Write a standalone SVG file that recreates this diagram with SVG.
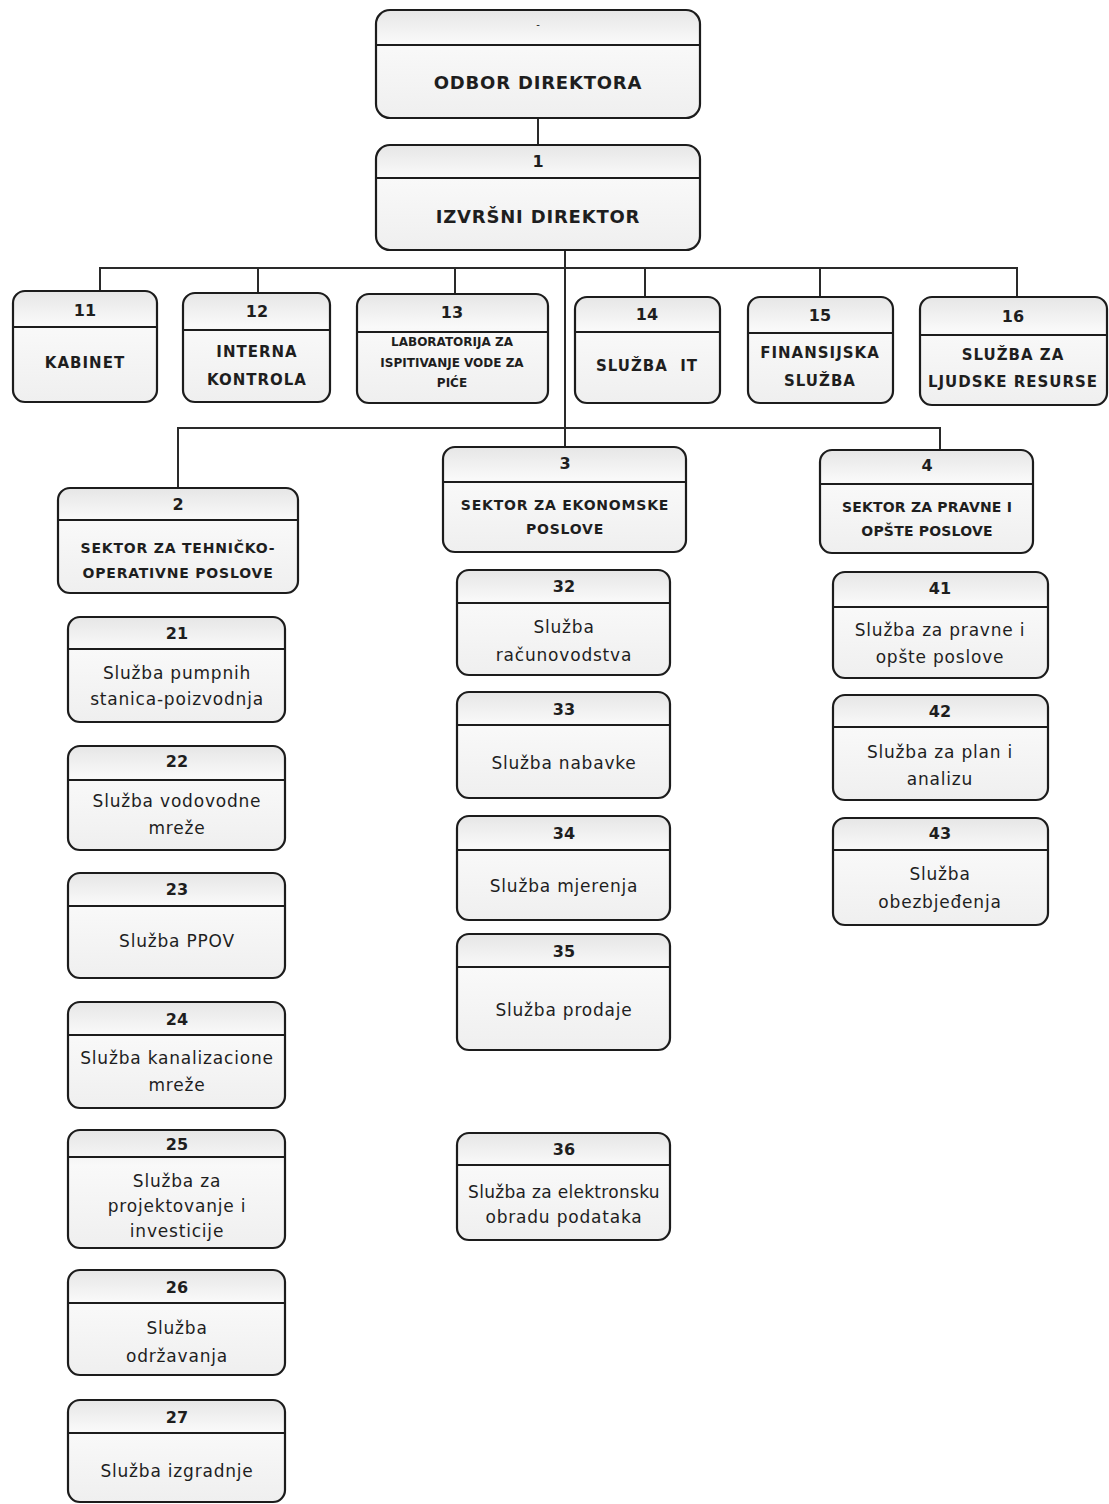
<svg xmlns="http://www.w3.org/2000/svg" width="1109" height="1504" viewBox="0 0 1109 1504">
<defs>
<linearGradient id="bg" x1="0" y1="0" x2="0" y2="1">
<stop offset="0" stop-color="#e6e6e6"/>
<stop offset="0.3" stop-color="#f9f9f9"/>
<stop offset="1" stop-color="#efefef"/>
</linearGradient>
</defs>
<style>
.box{fill:url(#bg);stroke:#1c1c1c;stroke-width:2.2}
.hl{stroke:#1c1c1c;stroke-width:2;fill:none}
.con{stroke:#2a2a2a;stroke-width:2;fill:none}
text{font-family:"DejaVu Sans","Liberation Sans",sans-serif;fill:#1e1e1e;text-anchor:middle;dominant-baseline:central}
.num{font-size:16px;font-weight:bold}
.big{font-size:18px;font-weight:bold;letter-spacing:0.8px}
.cap{font-size:15px;font-weight:bold;letter-spacing:1px}
.sm{font-size:12px;font-weight:bold}
.sec{font-size:14px;font-weight:bold;letter-spacing:0.8px}
.sec2{font-size:14px;font-weight:bold;letter-spacing:0.2px}
.low{font-size:17px;letter-spacing:0.8px}
</style>
<rect width="1109" height="1504" fill="#ffffff"/>
<g id="connectors">
<path class="con" d="M538 118V145"/>
<path class="con" d="M565 250V447"/>
<path class="con" d="M100 291V268H1017V298"/>
<path class="con" d="M258 268V293"/>
<path class="con" d="M455 268V294"/>
<path class="con" d="M645 268V297"/>
<path class="con" d="M820 268V297"/>
<path class="con" d="M178 488V428H940V450"/>
</g>
<g id="odbor">
<rect class="box" x="376" y="10" width="324" height="108" rx="14"/>
<path class="hl" d="M376 45H700"/>
<text x="538" y="24" style="font-size:10px">-</text>
<text class="big" x="538" y="82">ODBOR DIREKTORA</text>
</g>
<g id="n1">
<rect class="box" x="376" y="145" width="324" height="105" rx="14"/>
<path class="hl" d="M376 178H700"/>
<text class="num" x="538" y="161">1</text>
<text class="big" x="538" y="216">IZVRŠNI DIREKTOR</text>
</g>
<g id="n11">
<rect class="box" x="13" y="291" width="144" height="111" rx="12"/>
<path class="hl" d="M13 327H157"/>
<text class="num" x="85" y="310">11</text>
<text class="cap" x="85" y="363">KABINET</text>
</g>
<g id="n12">
<rect class="box" x="183" y="293" width="147" height="109" rx="12"/>
<path class="hl" d="M183 330H330"/>
<text class="num" x="257" y="311">12</text>
<text class="cap" x="257" y="352">INTERNA</text>
<text class="cap" x="257" y="380">KONTROLA</text>
</g>
<g id="n13">
<rect class="box" x="357" y="294" width="191" height="109" rx="12"/>
<path class="hl" d="M357 332H548"/>
<text class="num" x="452" y="312">13</text>
<text class="sm" x="452" y="342">LABORATORIJA ZA</text>
<text class="sm" x="452" y="363">ISPITIVANJE VODE ZA</text>
<text class="sm" x="452" y="383">PIĆE</text>
</g>
<g id="n14">
<rect class="box" x="575" y="297" width="145" height="106" rx="12"/>
<path class="hl" d="M575 332H720"/>
<text class="num" x="647" y="314">14</text>
<text class="cap" x="647" y="366" xml:space="preserve">SLUŽBA  IT</text>
</g>
<g id="n15">
<rect class="box" x="748" y="297" width="145" height="106" rx="12"/>
<path class="hl" d="M748 333H893"/>
<text class="num" x="820" y="315">15</text>
<text class="cap" x="820" y="353">FINANSIJSKA</text>
<text class="cap" x="820" y="381">SLUŽBA</text>
</g>
<g id="n16">
<rect class="box" x="920" y="297" width="187" height="108" rx="12"/>
<path class="hl" d="M920 335H1107"/>
<text class="num" x="1013" y="316">16</text>
<text class="cap" x="1013" y="355">SLUŽBA ZA</text>
<text class="cap" x="1013" y="382">LJUDSKE RESURSE</text>
</g>
<g id="n2">
<rect class="box" x="58" y="488" width="240" height="105" rx="12"/>
<path class="hl" d="M58 520H298"/>
<text class="num" x="178" y="504">2</text>
<text class="sec" x="178" y="548">SEKTOR ZA TEHNIČKO-</text>
<text class="sec" x="178" y="573">OPERATIVNE POSLOVE</text>
</g>
<g id="n3">
<rect class="box" x="443" y="447" width="243" height="105" rx="12"/>
<path class="hl" d="M443 482H686"/>
<text class="num" x="565" y="463">3</text>
<text class="sec" x="565" y="505">SEKTOR ZA EKONOMSKE</text>
<text class="sec" x="565" y="529">POSLOVE</text>
</g>
<g id="n4">
<rect class="box" x="820" y="450" width="213" height="103" rx="12"/>
<path class="hl" d="M820 484H1033"/>
<text class="num" x="927" y="465">4</text>
<text class="sec2" x="927" y="507">SEKTOR ZA PRAVNE I</text>
<text class="sec2" x="927" y="531">OPŠTE POSLOVE</text>
</g>
<g id="n21">
<rect class="box" x="68" y="617" width="217" height="105" rx="12"/>
<path class="hl" d="M68 649H285"/>
<text class="num" x="177" y="633">21</text>
<text class="low" x="177" y="673">Služba pumpnih</text>
<text class="low" x="177" y="699">stanica-poizvodnja</text>
</g>
<g id="n22">
<rect class="box" x="68" y="746" width="217" height="104" rx="12"/>
<path class="hl" d="M68 780H285"/>
<text class="num" x="177" y="761">22</text>
<text class="low" x="177" y="801">Služba vodovodne</text>
<text class="low" x="177" y="828">mreže</text>
</g>
<g id="n23">
<rect class="box" x="68" y="873" width="217" height="105" rx="12"/>
<path class="hl" d="M68 906H285"/>
<text class="num" x="177" y="889">23</text>
<text class="low" x="177" y="941">Služba PPOV</text>
</g>
<g id="n24">
<rect class="box" x="68" y="1002" width="217" height="106" rx="12"/>
<path class="hl" d="M68 1035H285"/>
<text class="num" x="177" y="1019">24</text>
<text class="low" x="177" y="1058">Služba kanalizacione</text>
<text class="low" x="177" y="1085">mreže</text>
</g>
<g id="n25">
<rect class="box" x="68" y="1130" width="217" height="118" rx="12"/>
<path class="hl" d="M68 1157H285"/>
<text class="num" x="177" y="1144">25</text>
<text class="low" x="177" y="1181">Služba za</text>
<text class="low" x="177" y="1206">projektovanje i</text>
<text class="low" x="177" y="1231">investicije</text>
</g>
<g id="n26">
<rect class="box" x="68" y="1270" width="217" height="105" rx="12"/>
<path class="hl" d="M68 1303H285"/>
<text class="num" x="177" y="1287">26</text>
<text class="low" x="177" y="1328">Služba</text>
<text class="low" x="177" y="1356">održavanja</text>
</g>
<g id="n27">
<rect class="box" x="68" y="1400" width="217" height="102" rx="12"/>
<path class="hl" d="M68 1433H285"/>
<text class="num" x="177" y="1417">27</text>
<text class="low" x="177" y="1471">Služba izgradnje</text>
</g>
<g id="n32">
<rect class="box" x="457" y="570" width="213" height="105" rx="12"/>
<path class="hl" d="M457 603H670"/>
<text class="num" x="564" y="586">32</text>
<text class="low" x="564" y="627">Služba</text>
<text class="low" x="564" y="655">računovodstva</text>
</g>
<g id="n33">
<rect class="box" x="457" y="692" width="213" height="106" rx="12"/>
<path class="hl" d="M457 725H670"/>
<text class="num" x="564" y="709">33</text>
<text class="low" x="564" y="763">Služba nabavke</text>
</g>
<g id="n34">
<rect class="box" x="457" y="816" width="213" height="104" rx="12"/>
<path class="hl" d="M457 850H670"/>
<text class="num" x="564" y="833">34</text>
<text class="low" x="564" y="886">Služba mjerenja</text>
</g>
<g id="n35">
<rect class="box" x="457" y="934" width="213" height="116" rx="12"/>
<path class="hl" d="M457 967H670"/>
<text class="num" x="564" y="951">35</text>
<text class="low" x="564" y="1010">Služba prodaje</text>
</g>
<g id="n36">
<rect class="box" x="457" y="1133" width="213" height="107" rx="12"/>
<path class="hl" d="M457 1165H670"/>
<text class="num" x="564" y="1149">36</text>
<text class="low" x="564" y="1192" style="letter-spacing:0.3px">Služba za elektronsku</text>
<text class="low" x="564" y="1217">obradu podataka</text>
</g>
<g id="n41">
<rect class="box" x="833" y="572" width="215" height="106" rx="12"/>
<path class="hl" d="M833 607H1048"/>
<text class="num" x="940" y="588">41</text>
<text class="low" x="940" y="630">Služba za pravne i</text>
<text class="low" x="940" y="657">opšte poslove</text>
</g>
<g id="n42">
<rect class="box" x="833" y="695" width="215" height="105" rx="12"/>
<path class="hl" d="M833 727H1048"/>
<text class="num" x="940" y="711">42</text>
<text class="low" x="940" y="752">Služba za plan i</text>
<text class="low" x="940" y="779">analizu</text>
</g>
<g id="n43">
<rect class="box" x="833" y="818" width="215" height="107" rx="12"/>
<path class="hl" d="M833 850H1048"/>
<text class="num" x="940" y="833">43</text>
<text class="low" x="940" y="874">Služba</text>
<text class="low" x="940" y="902">obezbjeđenja</text>
</g>
</svg>
